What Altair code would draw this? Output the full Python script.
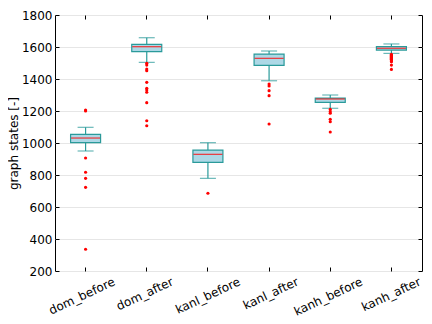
import altair as alt
import pandas as pd

cats = ["dom_before", "dom_after", "kanl_before", "kanl_after", "kanh_before", "kanh_after"]
whisker_lo = [950, 1504, 779, 1389, 1217, 1560]
q1 = [1002, 1571, 879, 1485, 1254, 1581]
median = [1031, 1602, 929, 1529, 1275, 1592]
q3 = [1054, 1617, 956, 1556, 1281, 1602]
whisker_hi = [1098, 1658, 1002, 1575, 1300, 1619]
outliers = {
    "dom_before": [1206, 1200, 906, 817, 779, 723, 336],
    "dom_after": [1498, 1487, 1462, 1452, 1379, 1342, 1331, 1317, 1252, 1139, 1108],
    "kanl_before": [686],
    "kanl_after": [1369, 1356, 1327, 1296, 1119],
    "kanh_before": [1210, 1196, 1186, 1148, 1133, 1069],
    "kanh_after": [1554, 1548, 1542, 1536, 1530, 1524, 1518, 1512, 1508, 1487, 1460],
}
y_ticks = [200, 400, 600, 800, 1000, 1200, 1400, 1600, 1800]

stats = pd.DataFrame({"cat": cats, "lo": whisker_lo, "q1": q1, "med": median,
                      "q3": q3, "hi": whisker_hi})
out = pd.DataFrame([{"cat": c, "v": v} for c in cats for v in outliers[c]])

W, H = 367, 256
teal = "#2a9a9a"
font = "DejaVu Sans"
fs = 12

xs = alt.Scale(domain=cats, paddingInner=0, paddingOuter=0)
ys = alt.Scale(domain=[200, 1800], nice=False, zero=False)

base = alt.Chart(stats)

x_main = alt.X("cat:N", scale=xs, sort=cats, title=None,
               axis=alt.Axis(labelAngle=-25, labelAlign="right", labelBaseline="top",
                             labelOffset={"expr": "length(datum.label) * 2.9 - 2.5"},
                             labelFontSize=fs, labelFont=font, labelColor="black",
                             tickSize=0, labelPadding=5, domain=False, labelLimit=200))
y_main = alt.Y("q1:Q", scale=ys, title="graph states [-]",
               axis=alt.Axis(values=y_ticks, format="d", grid=True,
                             gridColor="#e6e6e6", tickSize=0, labelPadding=3,
                             labelFontSize=fs, labelFont=font, labelColor="black",
                             titleFontSize=fs, titleFont=font, titleFontWeight="normal",
                             titleColor="black", domain=False, titlePadding=1))

whisk_lo = base.mark_rule(color=teal, strokeWidth=1.2).encode(
    x=alt.X("cat:N", scale=xs, sort=cats, axis=alt.Axis(orient="top", offset=-H, labels=False,
            tickSize=4, tickColor="black", domain=False, title=None)),
    y=alt.Y("lo:Q", scale=ys, axis=alt.Axis(orient="right", offset=-W, labels=False,
            values=y_ticks, tickSize=4, tickColor="black",
            domain=False, grid=False, title=None)),
    y2="q1:Q")
whisk_hi = base.mark_rule(color=teal, strokeWidth=1.2).encode(
    x=alt.X("cat:N", scale=xs, sort=cats, axis=alt.Axis(orient="bottom", offset=-H, labels=False,
            tickSize=4, tickColor="black", domain=False, title=None)),
    y=alt.Y("q3:Q", scale=ys, axis=alt.Axis(orient="left", offset=-W, labels=False,
            values=y_ticks, tickSize=4, tickColor="black",
            domain=False, grid=False, title=None)),
    y2="hi:Q")
box = base.mark_bar(size=30, fill="#add8e6", stroke=teal, strokeWidth=1.2).encode(
    x=x_main, y=y_main, y2="q3:Q")
cap_lo = base.mark_tick(size=16, thickness=1.2, color=teal).encode(
    x=alt.X("cat:N", scale=xs, sort=cats, axis=None),
    y=alt.Y("lo:Q", scale=ys, axis=None))
cap_hi = base.mark_tick(size=16, thickness=1.2, color=teal).encode(
    x=alt.X("cat:N", scale=xs, sort=cats, axis=None),
    y=alt.Y("hi:Q", scale=ys, axis=None))
med = base.mark_tick(size=29, thickness=1.3, color="red").encode(
    x=alt.X("cat:N", scale=xs, sort=cats, axis=None),
    y=alt.Y("med:Q", scale=ys, axis=None))
pts = alt.Chart(out).mark_circle(size=10, color="red", opacity=1).encode(
    x=alt.X("cat:N", scale=xs, sort=cats, axis=None),
    y=alt.Y("v:Q", scale=ys, axis=None))

chart = alt.layer(box, whisk_lo, whisk_hi, cap_lo, cap_hi, med, pts).resolve_axis(
    x="independent", y="independent"
).properties(
    width=W, height=H,
    autosize=alt.AutoSizeParams(type="none"),
    padding={"left": 47, "top": 7, "right": 2, "bottom": 45},
).configure_view(stroke="black", strokeWidth=1)

chart.save("out.html", embed_options={"renderer": "svg", "actions": False})
